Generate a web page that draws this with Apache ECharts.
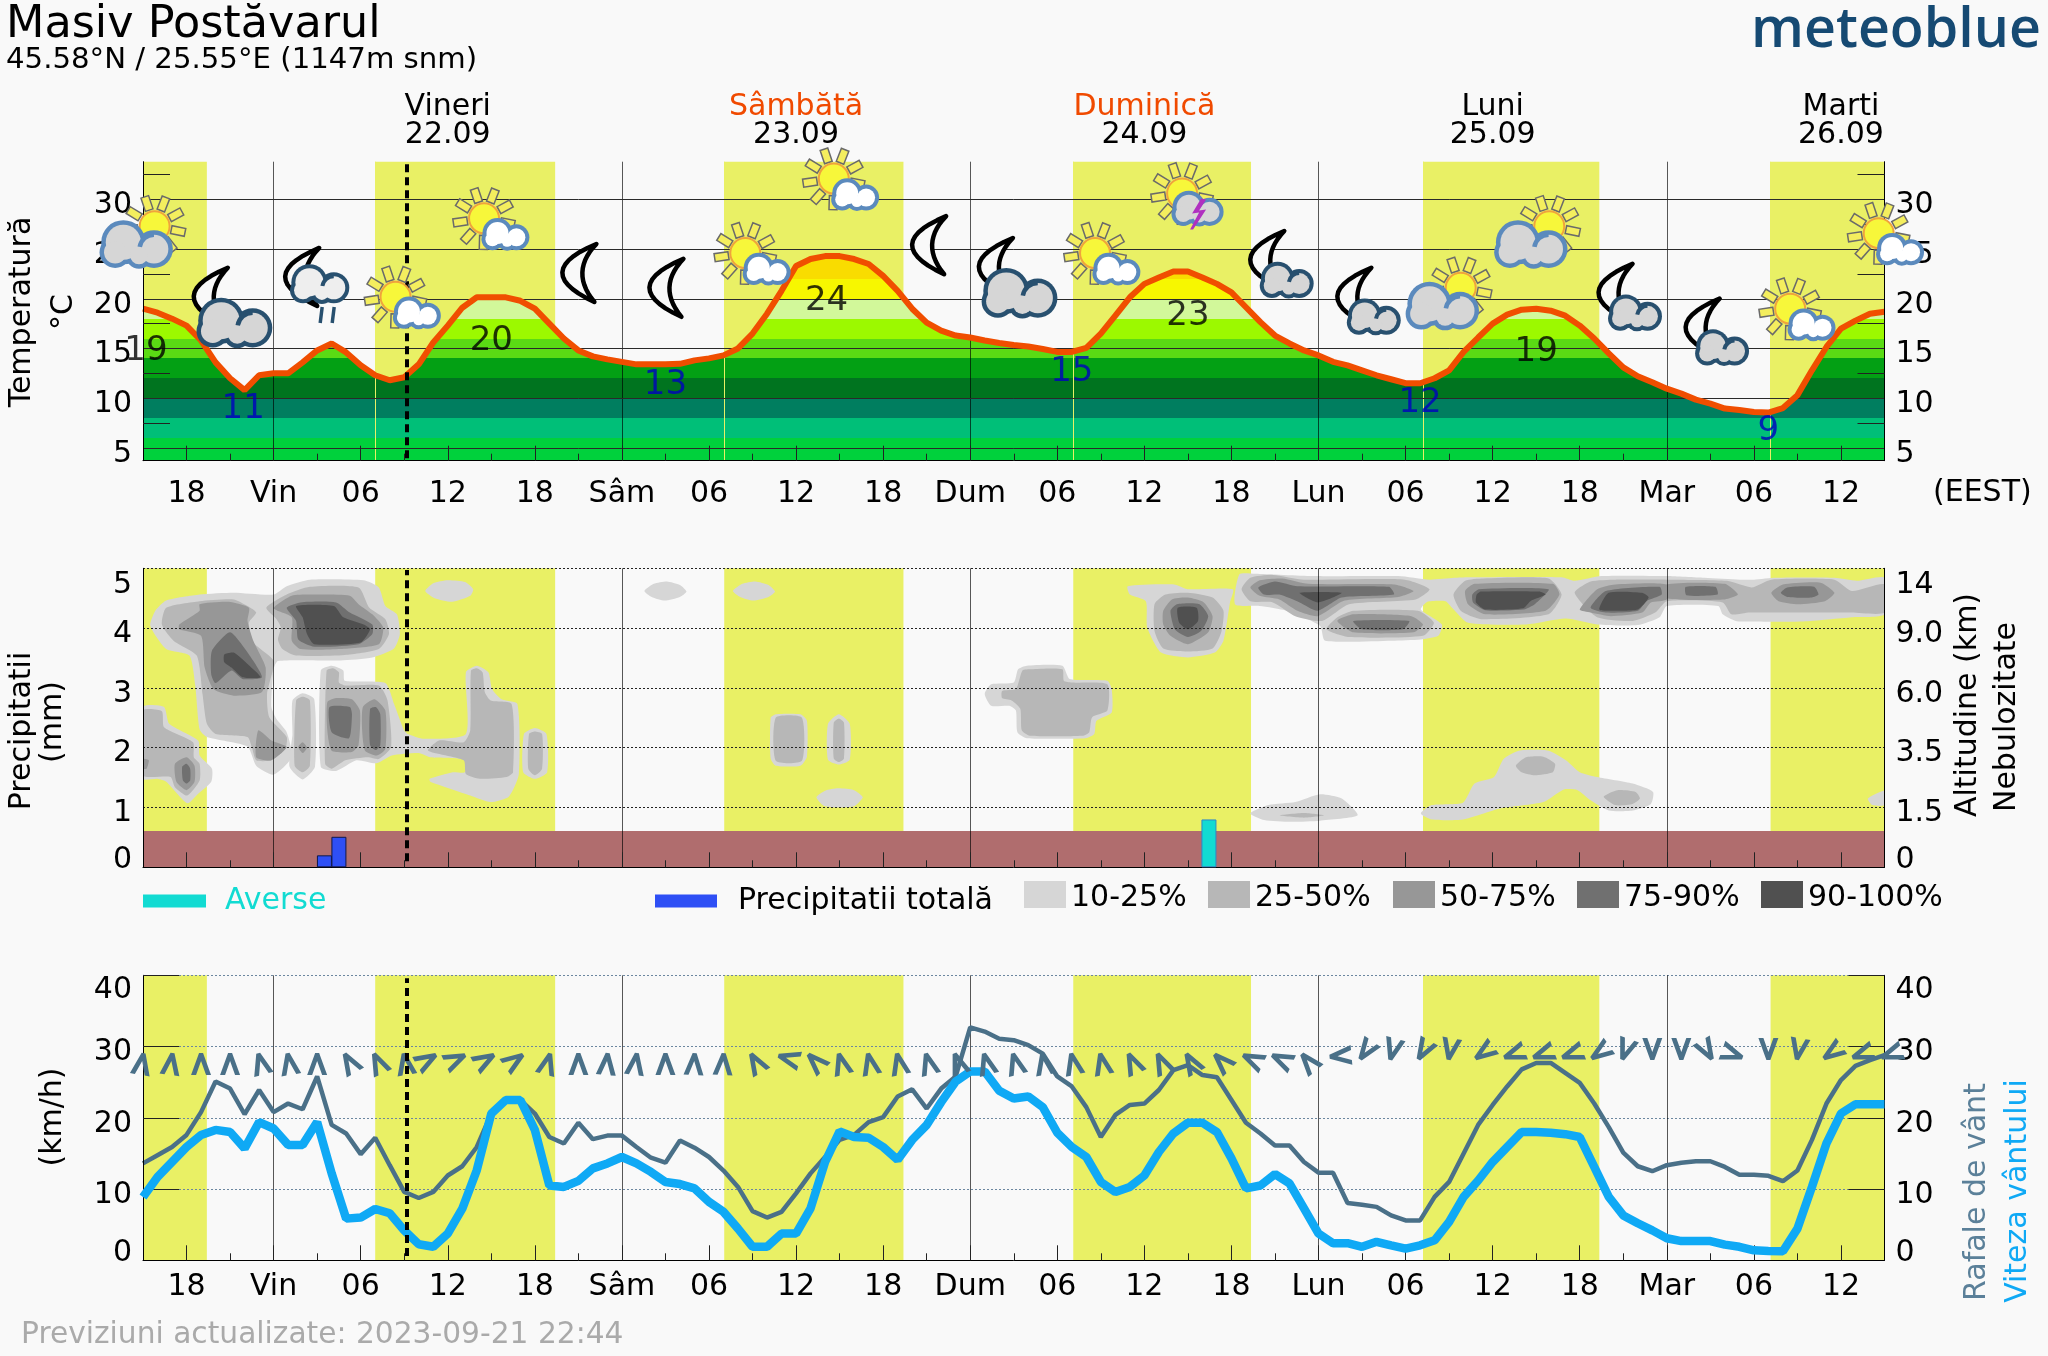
<!DOCTYPE html>
<html><head><meta charset="utf-8"><title>Masiv Postăvarul</title>
<style>html,body{margin:0;padding:0;background:#f9f9f9}#c{width:2048px;height:1356px}</style>
<script src="https://cdn.jsdelivr.net/npm/echarts@6/dist/echarts.min.js"></script></head>
<body><div id="c"></div>
<script>
// Time axis: hours since Thursday 21.09 00:00
const hourStart=15, hourEnd=135;
const majorHours=[18,24,30,36,42,48,54,60,66,72,78,84,90,96,102,108,114,120,126,132];
const majorLabels=['18','Vin','06','12','18','Sâm','06','12','18','Dum','06','12','18','Lun','06','12','18','Mar','06','12'];
const minorHours=[21,27,33,39,45,51,57,63,69,75,81,87,93,99,105,111,117,123,129];
const dayLineHours=[24,48,72,96,120];
const dayHours=[36,60,84,108,132];
const dayNames=['Vineri','Sâmbătă','Duminică','Luni','Marti'];
const dayDates=['22.09','23.09','24.09','25.09','26.09'];
const dayWeekend=[false,true,true,false,false];
const daylightStart=[15,31,55.05,79.1,103.2,127.15];
const daylightEnd=[19.4,43.4,67.4,91.35,115.35,135];
const sunriseHours=[31,55.05,79.1,103.2,127.15];
const nowHour=33.2;

// Temperature panel
const tempValues=[19.0,18.6,18.0,17.3,15.8,13.6,12.0,10.8,12.3,12.5,12.5,13.6,14.8,15.5,14.6,13.3,12.3,11.8,12.1,13.4,15.6,17.3,19.1,20.15,20.15,20.15,19.8,19.0,17.5,16.0,14.8,14.2,13.9,13.65,13.4,13.4,13.4,13.45,13.8,14.0,14.3,15.0,16.5,18.5,20.8,23.3,24.0,24.3,24.3,24.0,23.5,22.3,20.8,19.0,17.6,16.8,16.3,16.1,15.8,15.55,15.35,15.2,14.95,14.65,14.65,15.05,16.5,18.3,20.15,21.5,22.15,22.75,22.75,22.15,21.5,20.65,19.15,17.65,16.3,15.5,14.8,14.3,13.65,13.3,12.8,12.3,11.9,11.5,11.5,12,12.8,14.65,16.1,17.5,18.4,18.9,19,18.8,18.3,17.3,16,14.5,13.1,12.2,11.6,10.95,10.45,9.85,9.45,8.95,8.8,8.6,8.55,9.0,10.3,12.8,15.15,17,17.8,18.5,18.7];
const tempTicks=[5,10,15,20,25,30];
const tempTickLabels=['5','10','15','20','25','30'];
const tempMinorTicks=[7.5,12.5,17.5,22.5,27.5,32.5];
const tempBandEdges=[-50,6,8,10,12,14,16,18,20,22,24,60];
const tempBandColors=['#00d13c','#00bf78','#007e5f','#00741f','#03a014','#5adb14','#9cf900','#d2f89a','#f7f700','#f9dc00','#f5a800'];
const maxLabelHours=[15.2,39,62.1,87,111];
const maxLabelLevels=[15,16,20.1,18.6,14.9];
const maxLabelTexts=['19','20','24','23','19'];
const minLabelHours=[21.9,51,79,103,127];
const minLabelLevels=[9.2,11.6,12.9,9.8,7];
const minLabelTexts=['11','13','15','12','9'];
const iconHours=[15.8,19.6,25.9,32.4,38.5,45,51,56.5,62.6,69.1,73.7,80.6,86.6,92.4,98.4,105.8,111.9,116.4,122.4,128.5,134.6];
const iconLevels=[27.3,20.1,22.1,20.2,28.1,22.5,21,24.6,32.1,25.3,23.1,24.6,30.6,23.8,20.1,21.1,27.3,20.5,17,19,26.6];
const iconKinds=['sunBig','moonBig','moonRain','sun','sun','moon','moon','sun','sun','moon','moonBig','sun','sunStorm','moonSmall','moonSmall','sunBig','sunBig','moonSmall','moonSmall','sun','sun'];

// Precipitation / cloud panel (labels sit slightly inside the panel at the two ends)
const levelLines=[1,2,3,4,5];
const levelLabelAnchors=[0.227,1,2,3,4,4.826];
const levelLabels=['0','1','2','3','4','5'];
const altitudeLabels=['0','1.5','3.5','6.0','9.0','14'];
const groundTop=0.605;
const totalPrecip=[[27.5,0.2],[28.5,0.51]];
const showerPrecip=[[88.45,0.8]];
const cloud10=[
[[15.5,4.04],[15.85,4.29],[16.6,4.46],[18.9,4.56],[21.25,4.59],[24,4.56],[24.9,4.7],[26.5,4.81],[30.2,4.8],[31.25,4.68],[31.7,4.37],[32.5,4.23],[32.7,3.9],[32.3,3.66],[30.8,3.51],[28.6,3.46],[24.3,3.45],[24,3.31],[23.85,2.68],[24.2,2.48],[24.9,2.26],[25.25,1.84],[24,1.55],[22.8,1.7],[22.2,2.02],[19.4,2.18],[18.9,2.31],[18.6,3.04],[18.2,3.54],[16.6,3.65]],
[[15,2.68],[16.45,2.68],[16.8,2.4],[18.8,2.12],[18.9,1.87],[19.75,1.65],[19.7,1.43],[18.8,1.23],[18.05,1.07],[16.6,1.43],[16,1.48],[15,1.48]],
[[25.3,2.79],[26,2.91],[26.8,2.81],[26.85,1.68],[26,1.47],[25.1,1.68],[25.3,2.23]],
[[27.25,3.29],[28,3.37],[28.8,3.29],[28.9,3.12],[31.7,3.08],[32.3,2.73],[32.95,2.31],[33.25,2.23],[34.35,2.15],[37.25,2.23],[37.25,3.26],[38,3.37],[38.8,3.26],[39.05,2.98],[39.7,2.81],[40.8,2.73],[40.9,1.56],[40.2,1.18],[38.95,1.09],[37.55,1.2],[34.8,1.43],[34.75,1.48],[36.35,1.59],[37.2,1.59],[37.2,1.8],[34.8,1.84],[34,1.91],[32.15,1.87],[31.1,1.74],[29.7,1.79],[28.3,1.61],[27.25,1.68]],
[[41.25,2.23],[42,2.33],[42.8,2.23],[42.85,1.59],[42,1.48],[41.2,1.59]],
[[34.45,4.62],[35,4.75],[36,4.8],[37.2,4.77],[37.75,4.65],[37.55,4.54],[36.3,4.44],[35.1,4.5]],
[[49.55,4.62],[50.2,4.74],[51.1,4.78],[52,4.72],[52.45,4.61],[52,4.52],[50.95,4.46],[50.05,4.52]],
[[55.65,4.62],[56.3,4.74],[57.2,4.78],[58.1,4.72],[58.55,4.61],[58.1,4.52],[57.05,4.46],[56.15,4.52]],
[[58.25,2.5],[58.6,2.56],[60.3,2.56],[60.75,2.45],[60.75,1.85],[60.3,1.7],[58.6,1.7],[58.25,1.82]],
[[62.2,2.4],[62.95,2.56],[63.7,2.4],[63.7,1.8],[62.95,1.72],[62.2,1.8]],
[[61.4,1.17],[62,1.28],[62.9,1.32],[64,1.29],[64.6,1.17],[64,1.02],[62.9,1],[61.9,1.03]],
[[73,2.9],[73.45,3.06],[75,3.09],[75.3,3.31],[75.9,3.37],[78.35,3.37],[78.85,3.15],[81.45,3.12],[81.75,2.98],[81.75,2.59],[80.7,2.45],[80.55,2.23],[79.95,2.16],[75.9,2.16],[75.25,2.26],[75.15,2.62],[74.7,2.7],[73.45,2.7]],
[[82.85,4.7],[86.05,4.73],[87,4.65],[90.1,4.65],[89.9,4.43],[89.45,3.79],[88.85,3.59],[87,3.51],[85.15,3.59],[84.2,4.01],[84.1,4.45],[83,4.56]],
[[90.55,4.9],[91.6,4.91],[95.6,4.87],[101.5,4.87],[103.65,4.81],[105.35,4.84],[106.3,4.85],[112.75,4.85],[113.65,4.79],[115.5,4.87],[120,4.87],[122.6,4.84],[125.05,4.81],[126,4.81],[127.55,4.84],[131.55,4.84],[133.1,4.79],[135,4.84],[135,4.23],[132.75,4.18],[129.4,4.11],[125.7,4.11],[124.75,4.12],[123.85,4.23],[123.55,4.37],[120,4.37],[119.5,4.18],[118,4.05],[115.2,4.06],[113.05,4.16],[110.3,4.06],[106.3,4.09],[105.2,4.34],[104.75,4.45],[103.5,4.44],[103.05,4.31],[104.5,4.06],[104.25,3.87],[103.05,3.81],[101.05,3.79],[96.45,3.79],[96.1,4.04],[93.8,4.29],[91.95,4.37],[90.25,4.4]],
[[103.05,0.9],[103.8,1.04],[105.95,1.08],[106.75,1.4],[108.1,1.51],[108.75,1.81],[109.8,1.95],[111.85,1.95],[113.05,1.79],[114,1.59],[115.2,1.51],[117.65,1.4],[119.05,1.26],[118.9,1.06],[117.65,0.95],[116,0.95],[114.75,1.12],[113.85,1.29],[112.9,1.3],[111.5,1.09],[108.45,0.98],[105.95,0.8],[103.8,0.8]],
[[133.85,1.15],[135,1.28],[135,1.04],[134.15,1.04]],
[[91.3,0.9],[92.55,1.04],[94.4,1.09],[96.1,1.22],[97.6,1.15],[98.7,0.87],[96.1,0.78],[94.1,0.76],[92.25,0.79]]
];
const cloud25=[
[[16.3,4.06],[16.6,4.34],[18.9,4.45],[21.25,4.48],[22.2,4.37],[22.8,4.26],[22.3,4.09],[22.6,3.76],[24,3.45],[23.55,2.9],[23.7,2.51],[24.9,2.18],[24.8,1.98],[23.85,1.79],[22.8,1.79],[22.5,2.01],[22.2,2.18],[20,2.23],[19.4,2.4],[19.1,2.9],[18.7,3.54],[17.1,3.79]],
[[23.5,4.34],[24.9,4.56],[26.5,4.69],[29.85,4.68],[30.6,4.34],[31.7,4.15],[31.95,3.9],[31.25,3.65],[28.9,3.55],[25.55,3.54],[24.6,3.65],[24.3,3.81],[24.5,4.01],[24.2,4.15]],
[[15,2.62],[16.3,2.61],[16.45,2.34],[18.45,2.09],[18.5,1.84],[18.9,1.73],[18.9,1.45],[18.05,1.2],[17.2,1.34],[16.9,1.51],[15,1.54]],
[[25.55,2.79],[26,2.85],[26.5,2.79],[26.5,1.7],[26,1.59],[25.45,1.7]],
[[27.65,3.29],[28.1,3.33],[28.5,3.26],[28.5,3.09],[28.95,3.04],[31.25,3.04],[31.85,2.79],[32.1,2.01],[31.25,1.81],[30.5,1.84],[28.95,1.79],[28,1.65],[27.55,1.73]],
[[37.6,3.29],[38,3.33],[38.4,3.26],[38.55,2.93],[38.95,2.79],[40.4,2.73],[40.5,1.59],[40.05,1.51],[38.2,1.48],[37.25,1.56],[37.1,1.79],[34.65,1.95],[35.4,2.12],[37.1,2.09],[37.55,2.29]],
[[41.6,2.23],[42,2.27],[42.5,2.23],[42.5,1.65],[42,1.54],[41.55,1.65]],
[[58.6,2.5],[60.4,2.5],[60.4,1.78],[58.6,1.78]],
[[62.6,2.42],[62.95,2.49],[63.3,2.42],[63.3,1.82],[62.95,1.76],[62.6,1.82]],
[[74.2,2.95],[75.15,2.98],[75.6,3.29],[76.2,3.31],[78.35,3.31],[78.45,3.12],[79,3.09],[81.45,3.06],[81.45,2.62],[80.4,2.51],[80.2,2.26],[79.75,2.2],[76.1,2.2],[75.55,2.29],[75.45,2.65],[74.85,2.79],[74.2,2.83]],
[[84.7,4.4],[85.45,4.56],[87,4.59],[88.7,4.51],[89.45,4.29],[89.3,3.93],[88.7,3.66],[87,3.61],[85.3,3.66],[84.7,3.95]],
[[90.7,4.65],[91.3,4.84],[92.85,4.89],[95,4.81],[101.95,4.81],[103.65,4.65],[102.7,4.48],[98.1,4.4],[96.25,4.12],[94.4,4.2],[92.85,4.43],[91.3,4.45]],
[[97.3,4.18],[98.4,4.29],[102.85,4.29],[103.95,4.09],[103.2,3.87],[98.1,3.85],[96.55,3.98]],
[[105.3,4.56],[106.1,4.79],[107.35,4.83],[111.85,4.83],[112.75,4.56],[111.85,4.23],[107.2,4.15],[105.8,4.29]],
[[113.65,4.59],[114.75,4.78],[116.45,4.81],[120,4.81],[124.15,4.79],[125.85,4.68],[127.2,4.81],[131.55,4.81],[132.75,4.62],[135,4.73],[135,4.26],[132.75,4.26],[129.4,4.26],[125.7,4.26],[124.45,4.23],[123.85,4.43],[120,4.45],[119.2,4.26],[117.65,4.12],[115.2,4.18]],
[[109.6,1.7],[110.3,1.84],[111.5,1.85],[112.3,1.73],[112.15,1.59],[110.9,1.54],[110,1.59]],
[[115.65,1.18],[116.6,1.29],[117.85,1.26],[118.15,1.15],[117.65,1.06],[116.45,1.04]],
[[93.3,0.87],[95,0.91],[96.4,0.87],[95,0.83]]
];
const cloud50=[
[[17.5,4.06],[18.9,4.29],[18.9,4.4],[20.9,4.44],[22.3,4.34],[22.2,4.12],[22.6,3.79],[23.45,3.34],[23.2,2.93],[21.25,2.87],[19.85,2.98],[19.25,3.34],[19,3.87],[17.5,3.98]],
[[24,4.33],[25.25,4.54],[26.8,4.56],[29.25,4.54],[29.85,4.4],[30.8,4.23],[31.55,4.01],[31.25,3.73],[28.6,3.65],[25.85,3.65],[25.25,3.79],[25.25,4.18]],
[[22.95,2.29],[23.85,2.12],[24.9,2.01],[23.85,1.79],[22.8,1.84]],
[[17.2,1.73],[18,1.84],[18.55,1.7],[18.55,1.43],[18,1.29],[17.3,1.43]],
[[15,1.81],[15.4,1.79],[15.25,1.65],[15,1.65]],
[[25.7,2.01],[26,2.09],[26.3,2],[26,1.91]],
[[27.7,2.76],[28.3,2.83],[29.4,2.81],[29.95,2.62],[29.85,2.04],[29.4,1.93],[28,1.95],[27.7,2.29]],
[[30.15,2.68],[30.95,2.81],[31.7,2.62],[31.7,1.98],[31.1,1.87],[30.3,1.95],[30.1,2.29]],
[[85.3,4.29],[85.9,4.48],[87,4.51],[88.1,4.43],[88.7,4.2],[88.4,3.93],[87,3.73],[85.8,3.87],[85.3,4.06]],
[[91.3,4.68],[91.95,4.8],[93.5,4.83],[95.3,4.74],[101.2,4.73],[102.55,4.62],[101.5,4.52],[97.8,4.46],[95.95,4.2],[94.55,4.29],[93.3,4.48],[91.95,4.54]],
[[97.3,4.12],[98.4,4.23],[102.4,4.2],[103.2,4.06],[102.55,3.93],[98.4,3.93]],
[[106.1,4.62],[106.75,4.74],[112.15,4.74],[112.6,4.56],[111.65,4.29],[107.5,4.23],[106.3,4.4]],
[[114,4.31],[115.2,4.65],[116.45,4.73],[120,4.73],[120,4.48],[118.9,4.43],[118.3,4.26],[116.15,4.2],[114.75,4.26]],
[[120,4.73],[124,4.74],[124.9,4.56],[124,4.48],[120,4.5]],
[[127.2,4.59],[128,4.73],[130.6,4.76],[131.55,4.59],[130.9,4.45],[129.05,4.4],[127.7,4.45]]
];
const cloud75=[
[[21,3.93],[22.3,3.56],[23.2,3.18],[21.85,3.15],[21.1,3.29],[20,3.08],[19.7,3.23],[19.75,3.62]],
[[24.9,4.34],[25.85,4.43],[28.3,4.43],[29.25,4.26],[30.8,4.06],[30.8,3.9],[29.85,3.73],[26.8,3.69],[25.7,3.81],[25.55,4.12]],
[[17.7,1.68],[18,1.73],[18.25,1.65],[18.25,1.45],[18,1.4],[17.75,1.45]],
[[27.85,2.68],[29.25,2.68],[29.4,2.56],[29.2,2.16],[28,2.26]],
[[30.65,2.65],[31.05,2.68],[31.35,2.56],[31.35,2.04],[31.05,1.96],[30.65,2.04]],
[[85.8,4.29],[86.25,4.4],[87.8,4.4],[88.4,4.2],[87.9,3.95],[87,3.85],[86.1,3.98]],
[[91.85,4.68],[93,4.78],[94.55,4.7],[100.85,4.69],[101.2,4.56],[97.6,4.51],[95.95,4.29],[94.7,4.43],[93.3,4.56],[92.25,4.56]],
[[98.4,4.12],[102.25,4.12],[101.8,3.98],[99,3.98]],
[[106.6,4.56],[107.05,4.65],[111.85,4.65],[110.9,4.4],[110.1,4.31],[107.5,4.3],[106.65,4.43]],
[[114.75,4.34],[115.8,4.62],[119.5,4.69],[119.65,4.56],[118.6,4.45],[118,4.29],[115.8,4.26]],
[[121.3,4.69],[123.35,4.69],[123.5,4.56],[121.35,4.55]],
[[127.85,4.59],[128.3,4.68],[130.15,4.69],[130.45,4.56],[130,4.51],[128.3,4.52]]
];
const cloud90=[
[[20.6,3.56],[21.25,3.59],[22.2,3.4],[23.1,3.18],[21.85,3.18],[21.1,3.34],[20.6,3.43]],
[[25.55,4.37],[28.15,4.37],[28.8,4.18],[30.2,4.06],[30.65,3.98],[30,3.76],[26.8,3.73],[26.3,3.9],[26,4.18]],
[[86.3,4.34],[87.6,4.34],[87.7,4.12],[87,3.98],[86.4,4.09]],
[[94.7,4.59],[97.6,4.59],[95.95,4.43]],
[[106.9,4.56],[107.2,4.61],[111.2,4.61],[111.65,4.56],[110.6,4.45],[110.1,4.33],[107.5,4.31],[106.85,4.43]],
[[115.35,4.31],[116,4.59],[118.3,4.59],[118.75,4.51],[118,4.31],[116.45,4.29]]
];
const cloudClassNames=['10-25%','25-50%','50-75%','75-90%','90-100%'];
const cloudClassColors=['#d6d6d6','#b7b7b7','#979797','#707070','#505050'];
const cloudClasses=[cloud10,cloud25,cloud50,cloud75,cloud90];

// Wind panel
const windLabelAnchors=[1.87,10,20,30,38.8];
const windLabels=['0','10','20','30','40'];
const windLines=[10,20,30,40];
const gustValues=[13.6,14.75,15.9,17.6,20.8,25.1,24.1,20.5,23.9,20.8,22,21.2,25.8,19,17.8,14.9,17.2,13.35,9.6,8.75,9.6,11.9,13.2,15.9,20.6,22.7,22.5,20.6,17.3,16.4,19.3,17,17.5,17.5,15.9,14.4,13.7,16.8,15.8,14.5,12.6,10.3,6.9,6,6.8,9.4,12.2,14.5,16.9,17.6,19.4,20.1,23,24,21.3,24.1,25.8,32.7,32.1,31.1,30.9,30.2,29,25.8,24.4,21.5,17.3,20.4,21.8,22,23.9,26.7,27.4,26,25.7,22.5,19.3,17.8,16.1,16.1,13.8,12.3,12.3,8.05,7.8,7.5,6.3,5.6,5.6,8.9,11,15,19,21.8,24.4,26.8,27.7,27.7,26.3,24.9,22,18.7,15.1,13.2,12.5,13.35,13.7,13.9,13.9,13.1,12,12,11.85,11.1,12.6,16.9,22,25.3,27.3,28.1,28.8];
const windValues=[8.9,11.7,13.8,15.9,17.6,18.3,18.0,15.7,19.4,18.5,16.2,16.2,19.4,12.2,5.85,6,7.2,6.6,4.2,2.25,1.9,3.75,7.25,12.65,20.6,22.5,22.5,18.3,10.5,10.3,11.15,12.9,13.6,14.5,13.6,12.4,11,10.7,10.1,8.2,6.8,4.45,1.9,1.9,3.75,3.75,7.3,13.8,18.1,17.3,17.2,15.9,14.1,16.9,19,22.2,25.1,26.5,26.5,23.8,22.7,23,21.5,17.9,15.9,14.5,11,9.6,10.3,11.9,15.2,17.8,19.3,19.3,18,14.3,10.1,10.5,12.1,10.8,7.3,3.75,2.4,2.4,1.9,2.6,2.1,1.65,2.1,2.8,5.4,8.9,11.2,13.8,15.9,18,18,17.9,17.7,17.3,13.1,8.9,6.3,5.2,4.2,3.1,2.7,2.7,2.7,2.2,1.9,1.4,1.3,1.26,4.45,10.3,16.4,20.6,21.9,21.9,21.9];
const arrowLevel=28.6;
const arrowAngles=[10,8,0,0,-15,-10,0,-30,-25,-10,60,65,60,55,15,0,5,8,0,3,3,-30,-75,-45,-15,-12,-12,-15,-20,-15,-15,-10,-12,-12,-25,-25,-30,-45,-65,-65,-40,-95,-145,-165,-150,-170,-125,-110,-110,-110,-125,-160,180,180,150,110,180,-170,-125,-110,-110];

const FONT='DejaVu Sans', TICK=30, BLACK='#000';
const hourOf=i=>hourStart+i;
const pairs=v=>v.map((y,i)=>[hourOf(i),y]);

const grids=[
 {left:143,width:1741.5,top:161.7,height:299},
 {left:143,width:1741.5,top:568.3,height:299},
 {left:143,width:1741.5,top:975.3,height:285}
];
const xAxes=[], yAxes=[];
function addX(g,labels,margin){
 xAxes.push({gridIndex:g,z:5,type:'value',position:'bottom',min:hourStart,max:hourEnd,interval:3,splitLine:{show:false},
  axisLine:{show:true,onZero:false,lineStyle:{color:BLACK,width:1}},
  axisTick:{show:true,inside:true,length:15,customValues:majorHours,lineStyle:{color:'#222',width:1}},
  axisLabel:labels?{show:true,customValues:majorHours,margin:margin,fontFamily:FONT,fontSize:TICK,color:BLACK,
    formatter:v=>majorLabels[majorHours.indexOf(v)]||''}:{show:false}});
 xAxes.push({gridIndex:g,z:5,type:'value',position:'bottom',min:hourStart,max:hourEnd,interval:3,splitLine:{show:false},
  axisLine:{show:false,onZero:false},
  axisTick:{show:true,inside:true,length:7,customValues:minorHours,lineStyle:{color:'#222',width:1}},
  axisLabel:{show:false}});
}
addX(0,true,19); addX(1,false,0); addX(2,true,12);
// day header axis
xAxes.push({gridIndex:0,type:'value',position:'top',min:hourStart,max:hourEnd,interval:3,splitLine:{show:false},
 axisLine:{show:false,onZero:false},axisTick:{show:false},
 axisLabel:{show:true,customValues:dayHours,margin:12,
  formatter:v=>{const i=dayHours.indexOf(v);return '{'+(dayWeekend[i]?'w':'n')+'|'+dayNames[i]+'}\n{d|'+dayDates[i]+'}';},
  rich:{n:{fontFamily:FONT,fontSize:TICK,color:BLACK,lineHeight:28},w:{fontFamily:FONT,fontSize:TICK,color:'#f04a00',lineHeight:28},d:{fontFamily:FONT,fontSize:TICK,color:BLACK,lineHeight:28}}}});

function addY(g,pos,min,max,anchors,labels,tickVals,tickLen){
 yAxes.push({gridIndex:g,z:5,type:'value',position:pos,min:min,max:max,splitLine:{show:false},
  axisLine:{show:true,onZero:false,lineStyle:{color:BLACK,width:1}},
  axisTick:{show:tickVals.length>0,inside:true,length:tickLen,customValues:tickVals,lineStyle:{color:'#222',width:1}},
  axisLabel:{show:true,margin:11,customValues:anchors,
   formatter:v=>'{v|'+labels[anchors.indexOf(v)]+'}',
   rich:{v:{fontFamily:FONT,fontSize:TICK,color:BLACK,padding:[12,0,0,0]}}}});
}
addY(0,'left',3.7,33.8,tempTicks,tempTickLabels,tempMinorTicks,27);
addY(0,'right',3.7,33.8,tempTicks,tempTickLabels,tempMinorTicks,27);
addY(1,'left',0,5,levelLabelAnchors,levelLabels,[],0);
addY(1,'right',0,5,levelLabelAnchors,altitudeLabels,[],0);
addY(2,'left',0,40,windLabelAnchors,windLabels,windLines,36);
addY(2,'right',0,40,windLabelAnchors,windLabels,windLines,36);
const Y={t:0,p:2,w:4}, X={t:0,p:2,w:4};

const series=[];
// temperature filled area coloured by horizontal bands
series.push({name:'TemperaturaArie',type:'line',xAxisIndex:X.t,yAxisIndex:Y.t,data:pairs(tempValues),symbol:'none',
 lineStyle:{width:0},areaStyle:{opacity:1},z:2,silent:true});

function helper(x,y,extra){return Object.assign({type:'line',xAxisIndex:x,yAxisIndex:y,data:[],symbol:'none',silent:true},extra);}
const dayBands=daylightStart.map((s,i)=>[{xAxis:s},{xAxis:daylightEnd[i]}]);
[['t'],['p'],['w']].forEach(([k])=>{
 series.push(helper(X[k],Y[k],{z:1,markArea:{z:1,silent:true,itemStyle:{color:'#e9f065',opacity:1},data:dayBands,label:{show:false}}}));
});
function lines(x,y,z,data,style){
 series.push(helper(x,y,{z:z,markLine:{z:z,silent:true,symbol:'none',animation:false,label:{show:false},lineStyle:style,data:data}}));
}
const NOW={color:BLACK,width:4,type:[8,5]};
// temperature panel overlays
lines(X.t,Y.t,3,sunriseHours.map(h=>({xAxis:h})),{color:'#e9f065',width:1,type:'solid'});
lines(X.t,Y.t,3,dayLineHours.map(h=>({xAxis:h})),{color:'rgba(0,0,0,0.65)',width:1,type:'solid'});
lines(X.t,Y.t,3,tempTicks.map(v=>({yAxis:v})),{color:'#2a2a2a',width:1,type:'solid'});
series.push({name:'Temperatura',type:'line',xAxisIndex:X.t,yAxisIndex:Y.t,data:pairs(tempValues),symbol:'none',z:4,silent:true,
 lineStyle:{color:'#f04e00',width:6,join:'bevel'},itemStyle:{color:'#f04e00'}});
lines(X.t,Y.t,5,[[{coord:[nowHour,3.95]},{coord:[nowHour,33.8]}]],NOW);

// cloud panel
cloudClasses.forEach((polys,c)=>{
 series.push({name:cloudClassNames[c],type:'custom',xAxisIndex:X.p,yAxisIndex:Y.p,z:2,silent:true,clip:true,
  itemStyle:{color:cloudClassColors[c]},
  encode:{x:0,y:1},
  data:polys.map(p=>[p[0][0],p[0][1]]),
  renderItem:(params,api)=>({type:'polygon',
    shape:{points:polys[params.dataIndex].map(pt=>api.coord(pt)),smooth:0.2},
    style:{fill:cloudClassColors[c]}})
 });
});
series.push(helper(X.p,Y.p,{z:3,markArea:{z:3,silent:true,itemStyle:{color:'#b06d6e',opacity:1},data:[[{yAxis:0},{yAxis:groundTop}]]}}));
lines(X.p,Y.p,4,levelLines.map(v=>({yAxis:v})),{color:'#222',width:1,type:[2,2]});
lines(X.p,Y.p,4,dayLineHours.map(h=>({xAxis:h})),{color:'rgba(0,0,0,0.65)',width:1,type:'solid'});
series.push({name:'Averse',type:'bar',stack:'precip',xAxisIndex:X.p,yAxisIndex:Y.p,z:6,barWidth:15,silent:true,data:showerPrecip,
 itemStyle:{color:'#12dbd2',borderColor:'#2f86c9',borderWidth:1}});
series.push({name:'Precipitatii totală',type:'bar',stack:'precip',xAxisIndex:X.p,yAxisIndex:Y.p,z:6,barWidth:15,silent:true,data:totalPrecip,
 itemStyle:{color:'#2e4ff5',borderColor:'#10184a',borderWidth:1}});
lines(X.p,Y.p,7,[[{coord:[nowHour,0.1]},{coord:[nowHour,4.97]}]],NOW);

// wind panel
lines(X.w,Y.w,2,windLines.map(v=>({yAxis:v})),{color:'#6c87a0',width:1,type:[2,2]});
lines(X.w,Y.w,2,dayLineHours.map(h=>({xAxis:h})),{color:'rgba(0,0,0,0.65)',width:1,type:'solid'});
series.push({name:'Rafale de vânt',type:'line',xAxisIndex:X.w,yAxisIndex:Y.w,data:pairs(gustValues),symbol:'none',z:3,silent:true,
 lineStyle:{color:'#4a7088',width:4.5,join:'bevel'},itemStyle:{color:'#4a7088'}});
series.push({name:'Viteza vântului',type:'line',xAxisIndex:X.w,yAxisIndex:Y.w,data:pairs(windValues),symbol:'none',z:6,silent:true,
 lineStyle:{color:'#0fa9f5',width:8.5,join:'bevel'},itemStyle:{color:'#0fa9f5'}});
series.push({name:'Direcția vântului',type:'scatter',xAxisIndex:X.w,yAxisIndex:Y.w,z:6,silent:true,clip:false,
 data:arrowAngles.map((a,i)=>[hourStart+2*i,arrowLevel]),
 symbol:'path://M10 -15 L10.01 -15 L10 -15.01 Z M0 22 L8 0 L12 0 L20 22 L15 22 L10 8 L5 22 Z',symbolSize:[20,37],
 symbolRotate:(v,p)=>-arrowAngles[p.dataIndex],itemStyle:{color:'#4a7088',opacity:1}});
lines(X.w,Y.w,7,[[{coord:[nowHour,0.6]},{coord:[nowHour,39.6]}]],NOW);

// weather icons
function cloudShape(cx,cy,w,h,fill,stroke,lw,swirl){
 const lobes=[[-.18*w,-.05*h,.44*h],[.27*w,.12*h,.36*h],[-.3*w,.2*h,.28*h],[.05*w,.28*h,.22*h]];
 const out=lobes.map(l=>({type:'circle',shape:{cx:cx+l[0],cy:cy+l[1],r:l[2]+lw},style:{fill:stroke}}));
 const inn=lobes.map(l=>({type:'circle',shape:{cx:cx+l[0],cy:cy+l[1],r:l[2]},style:{fill:fill}}));
 const res=out.concat(inn);
 if(swirl)res.push({type:'arc',shape:{cx:cx+.27*w,cy:cy+.12*h,r:.36*h,startAngle:Math.PI*1.05,endAngle:Math.PI*1.5},style:{stroke:stroke,lineWidth:lw,fill:'none'}});
 return res;
}
function sunShape(){
 const rays=[];
 for(let k=0;k<9;k++){const a=k*2*Math.PI/9+0.2,c=Math.cos(a),s=Math.sin(a),r1=17,r2=31,hw=4;
  rays.push({type:'polygon',shape:{points:[[c*r1-s*hw,s*r1+c*hw],[c*r2-s*hw,s*r2+c*hw],[c*r2+s*hw,s*r2-c*hw],[c*r1+s*hw,s*r1-c*hw]]},
   style:{fill:'#f4ee5e',stroke:'#6a6a6a',lineWidth:1.5}});}
 rays.push({type:'circle',shape:{cx:0,cy:0,r:15},style:{fill:'#f7f73a',stroke:'#f0a43c',lineWidth:2}});
 return rays;
}
function moonShape(){
 const q=(a,b,c,t)=>(1-t)*(1-t)*a+2*(1-t)*t*b+t*t*c, pts=[];
 for(let i=0;i<=14;i++){const t=i/14;pts.push([q(18,-49,16,t),q(-30,-2,28,t)]);}
 for(let i=0;i<=14;i++){const t=i/14;pts.push([q(16,-9,18,t),q(28,-2,-30,t)]);}
 return [{type:'polygon',shape:{points:pts},style:{fill:'#f9f9f9',stroke:'#000',lineWidth:4.5,lineJoin:'round'}}];
}
const BLUE='#5b8abd', DARK='#28506f', GREY='#d6d6d6';
function iconChildren(kind){
 switch(kind){
  case 'sun': return sunShape().concat(cloudShape(21,16,42,25,'#ffffff',BLUE,4,false));
  case 'sunBig': return sunShape().concat(cloudShape(-19,18,68,40,GREY,BLUE,4.5,true));
  case 'sunStorm': return sunShape().concat(cloudShape(15,15,46,28,GREY,BLUE,4,false)).concat([
     {type:'polygon',shape:{points:[[19,5],[10,20],[17,19],[8,36],[11,36],[24,16],[17,17],[24,6]]},style:{fill:'#b030c0'}}]);
  case 'moon': return moonShape();
  case 'moonBig': return moonShape().concat(cloudShape(24,25,70,42,GREY,DARK,4.5,true));
  case 'moonSmall': return moonShape().concat(cloudShape(20,19,48,29,GREY,DARK,4,true));
  case 'moonRain': return moonShape().concat(cloudShape(18,6,54,32,'#eeeeee',DARK,4,true)).concat([
     {type:'line',shape:{x1:21,y1:29,x2:19,y2:45},style:{stroke:DARK,lineWidth:3.5}},
     {type:'line',shape:{x1:33,y1:29,x2:31,y2:45},style:{stroke:DARK,lineWidth:3.5}}]);
 }
 return [];
}
series.push({name:'Pictograme',type:'custom',xAxisIndex:X.t,yAxisIndex:Y.t,z:6,silent:true,clip:false,encode:{x:0,y:1},
 data:iconHours.map((h,i)=>[h,iconLevels[i]]),
 renderItem:(params,api)=>{const p=api.coord([api.value(0),api.value(1)]);
  return {type:'group',x:p[0],y:p[1],children:iconChildren(iconKinds[params.dataIndex])};}});

// day max / min labels
function valueLabels(name,hrs,lvls,txt,color){
 series.push({name:name,type:'scatter',xAxisIndex:X.t,yAxisIndex:Y.t,z:7,silent:true,clip:false,symbolSize:1,itemStyle:{color:'rgba(0,0,0,0)'},
  data:hrs.map((h,i)=>[h,lvls[i]]),
  label:{show:true,position:'inside',offset:[0,3],fontFamily:FONT,fontSize:34,color:color,formatter:p=>txt[p.dataIndex]}});
}
valueLabels('Maxime',maxLabelHours,maxLabelLevels,maxLabelTexts,'#000');
valueLabels('Minime',minLabelHours,minLabelLevels,minLabelTexts,'#0000c0');

// legends, one per entry. The cloud swatch sits in the upper part of a taller icon box,
// so its text is centred a little lower than the swatch, as in the original.
const SWATCH='path://M0 0 H42 V27 H0 Z M0 34 L0.01 34 L0 33.99 Z';
function legendEntry(name,left,top,w,h,color,padLeft,icon){
 return {data:[name],left:left,top:top,itemWidth:w,itemHeight:h,icon:icon,selectedMode:false,padding:0,itemGap:0,
  itemStyle:{borderWidth:0},textStyle:{fontFamily:FONT,fontSize:TICK,color:color,padding:[0,0,0,padLeft]}};
}
const legends=[
 legendEntry('Averse',143,886,63,13,'#12dbd2',14,'rect'),
 legendEntry('Precipitatii totală',655,886,62,13,BLACK,16,'rect'),
 legendEntry('10-25%',1024,881,42,34,BLACK,0,SWATCH),
 legendEntry('25-50%',1208,881,42,34,BLACK,0,SWATCH),
 legendEntry('50-75%',1393,881,42,34,BLACK,0,SWATCH),
 legendEntry('75-90%',1577,881,42,34,BLACK,0,SWATCH),
 legendEntry('90-100%',1761,881,42,34,BLACK,0,SWATCH)
];
function rot(text,x,y,color,size){return {type:'text',x:x,y:y,rotation:Math.PI/2,z:20,
  style:{text:text,align:'center',verticalAlign:'middle',fill:color||BLACK,font:(size||TICK)+'px "DejaVu Sans"'}};}
function flat(text,x,y,font,color,align){return {type:'text',x:x,y:y,z:20,
  style:{text:text,align:align||'left',verticalAlign:'middle',fill:color||BLACK,font:font}};}
const graphics=[
 rot('Temperatură',22,312,BLACK,30),rot('°C',64,312,BLACK,30),
 rot('Precipitatii',22,731,BLACK,30),rot('(mm)',53,722,BLACK,30),
 rot('Altitudine (km)',1968,705,BLACK,30),rot('Nebulozitate',2007,717,BLACK,30),
 rot('(km/h)',53,1117,BLACK,30),
 rot('Rafale de vânt',1977,1192,'#5b8099',30),rot('Viteza vântului',2018,1191,'#0fa9f5',30),
 flat('(EEST)',1933,493,'30px "DejaVu Sans"',BLACK),
 flat('Previziuni actualizate: 2023-09-21 22:44',21,1335,'29.7px "DejaVu Sans"','#aaaaaa'),
 flat('Masiv Postăvarul',6,25,'44.5px "DejaVu Sans"',BLACK),
 flat('45.58°N / 25.55°E (1147m snm)',6,60,'29.2px "DejaVu Sans"',BLACK),
 flat('meteoblue',2041,31,'600 55.5px "Open Sans"','#164a73','right')
];

const chart=echarts.init(document.getElementById('c'),null,{renderer:'canvas'});
chart.setOption({
 animation:false,backgroundColor:'#f9f9f9',textStyle:{fontFamily:FONT},
 grid:grids,xAxis:xAxes,yAxis:yAxes,legend:legends,
 visualMap:[{type:'piecewise',show:false,seriesIndex:0,dimension:1,
  pieces:tempBandColors.map((c,i)=>({gte:tempBandEdges[i],lt:tempBandEdges[i+1],color:c}))}],
 graphic:graphics,series:series
});
</script></body></html>
